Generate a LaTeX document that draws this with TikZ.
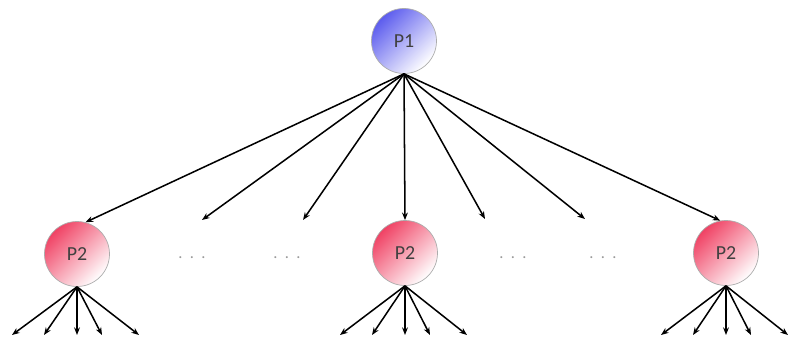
\documentclass[tikz,border=0pt]{standalone}
\usepackage{fontspec}
\setmainfont{Carlito}
\usetikzlibrary{arrows.meta}
\definecolor{ballblue}{RGB}{92,92,238}
\definecolor{ballred}{RGB}{240,66,100}
\tikzset{
  ball/.style={circle, draw=gray!65, line width=0.6pt, minimum size=1.95cm, inner sep=0pt,
    text=black!75, font=\fontsize{17}{20}\selectfont},
  ballP1/.style={ball, top color=ballblue, bottom color=white, shading angle=45},
  ballP2/.style={ball, top color=ballred, bottom color=white, shading angle=45},
  gap/.style={text=gray!80, font=\fontsize{14}{16}\selectfont}
}
\begin{document}
\begin{tikzpicture}[x=0.03cm, y=-0.03cm, line width=1.3pt, ->, >={Stealth[length=6.5pt,width=5pt]}]
\useasboundingbox (0,0) rectangle (789,337);
\node[ballP1] (top) at (404,41) {P1};
\node[ballP2] (l) at (77,254) {P2};
\node[ballP2] (m) at (405,253) {P2};
\node[ballP2] (r) at (726,253) {P2};
\node[gap] (g1) at (192,258) {.\ \ .\ \ .};
\node[gap] (g2) at (287,258) {.\ \ .\ \ .};
\node[gap] (g3) at (513,258) {.\ \ .\ \ .};
\node[gap] (g4) at (603,258) {.\ \ .\ \ .};
% loose ends of the arrows over the gaps
\coordinate (a1) at (202,220);
\coordinate (a2) at (303,220);
\coordinate (a3) at (485,219);
\coordinate (a4) at (585,219);
\draw (top.south) -- (l.75);
\draw (top.south) -- (a1);
\draw (top.south) -- (a2);
\draw (top.south) -- (m.north);
\draw (top.south) -- (a3);
\draw (top.south) -- (a4);
\draw (top.south) -- (r.100);
% fan below every P2
\foreach \p/\cx in {l/77,m/405,r/726}
  \foreach \dx [count=\i] in {-65,-33,0,25,62} {
    \coordinate (\p\i) at (\cx+\dx,335);
    \draw (\p.south) -- (\p\i);
  }
\end{tikzpicture}
\end{document}
